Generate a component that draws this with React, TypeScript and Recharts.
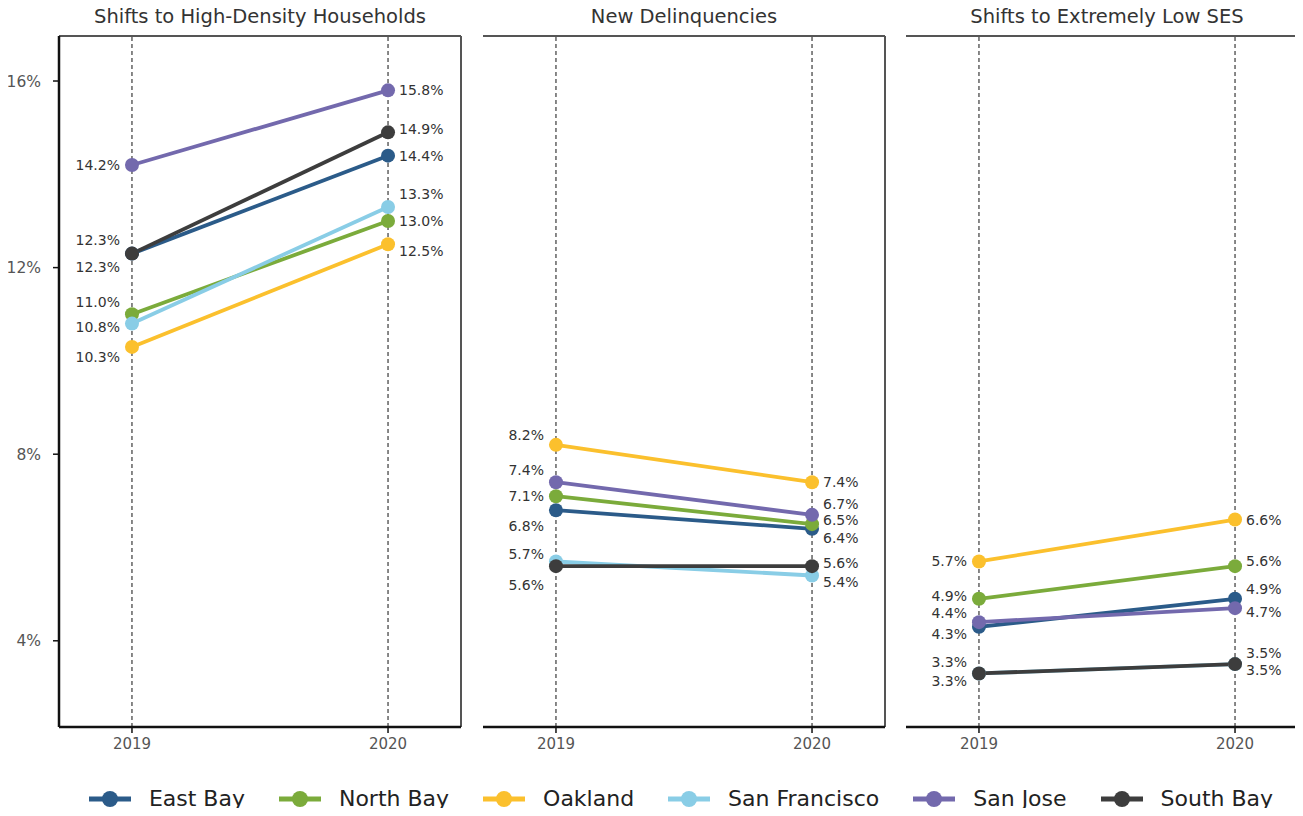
import React from 'react';
import { LineChart, Line, XAxis, YAxis, ReferenceLine, LabelList } from 'recharts';

const years = [2019, 2020];
const regions = ['East Bay', 'North Bay', 'Oakland', 'San Francisco', 'San Jose', 'South Bay'];
const regionColors = ['#2b5b89', '#7bab3b', '#fbc02d', '#89cde6', '#7369ad', '#3d3d3d'];

const density2019 = [12.3, 11.0, 10.3, 10.8, 14.2, 12.3];
const density2020 = [14.4, 13.0, 12.5, 13.3, 15.8, 14.9];
const delinq2019 = [6.8, 7.1, 8.2, 5.7, 7.4, 5.6];
const delinq2020 = [6.4, 6.5, 7.4, 5.4, 6.7, 5.6];
const lowSes2019 = [4.3, 4.9, 5.7, 3.3, 4.4, 3.3];
const lowSes2020 = [4.9, 5.6, 6.6, 3.5, 4.7, 3.5];

const yTicks = [4, 8, 12, 16];

// label nudges (px) so the repelled labels don't overlap, per region
const densityNudge = [[13, -12, 10, 3, 0, -14], [0, 0, 7, -13, 0, -3]];
const delinqNudge = [[16, 0, -10, -7, -12, 19], [9, -4, 0, 7, -11, -3]];
const lowSesNudge = [[7, -3, 0, -11, -9, 8], [-10, -5, 0, -11, 4, 6]];

const X_MIN = 2018.715;
const X_MAX = 2020.285;
const Y_MIN = 2.152;
const Y_MAX = 16.965;

const FONT = '"DejaVu Sans", sans-serif';

function buildRows(v2019: number[], v2020: number[]) {
  return years.map((year, i) => {
    const row: any = { year };
    regions.forEach((r, k) => {
      row[r] = i === 0 ? v2019[k] : v2020[k];
    });
    return row;
  });
}

function makeLabel(nudges: number[][], k: number) {
  return (p: any) => {
    const first = p.index === 0;
    return (
      <text
        x={p.x + (first ? -12 : 11)}
        y={p.y + nudges[p.index][k]}
        textAnchor={first ? 'end' : 'start'}
        dominantBaseline="central"
        fontSize={14}
        fontFamily={FONT}
        fill="#333"
      >
        {Number(p.value).toFixed(1) + '%'}
      </text>
    );
  };
}

interface PanelProps {
  title: string;
  rows: any[];
  nudges: number[][];
  left: number;
  showTicks: boolean;
}

function Panel({ title, rows, nudges, left, showTicks }: PanelProps) {
  const yw = showTicks ? 59 : 0;
  const width = yw + 402 + (showTicks ? 9 : 18);
  return (
    <div style={{ position: 'absolute', left, top: 0, width, height: 760 }}>
      <div
        style={{
          position: 'absolute',
          left: yw + (showTicks ? 0 : 13),
          width: 402,
          top: 5,
          textAlign: 'center',
          fontSize: 19.5,
          lineHeight: '24px',
          color: '#333',
          fontFamily: FONT,
          whiteSpace: 'nowrap',
        }}
      >
        {title}
      </div>
      <LineChart
        width={width}
        height={760}
        data={rows}
        margin={{ top: 36, right: showTicks ? 9 : 5, left: showTicks ? 0 : 13, bottom: 3 }}
      >
        <XAxis
          type="number"
          dataKey="year"
          domain={[X_MIN, X_MAX]}
          ticks={years}
          allowDataOverflow
          height={30}
          axisLine={{ stroke: '#111', strokeWidth: 2.5 }}
          tickLine={{ stroke: '#111', strokeWidth: 1.5 }}
          tickSize={6}
          tickMargin={5}
          tick={{ fill: '#555', fontSize: 15, fontFamily: FONT }}
        />
        <YAxis
          type="number"
          domain={[Y_MIN, Y_MAX]}
          ticks={yTicks}
          allowDataOverflow
          width={yw}
          axisLine={{ stroke: '#111', strokeWidth: 2.5 }}
          tickLine={showTicks ? { stroke: '#111', strokeWidth: 1.5 } : false}
          tickSize={6}
          tickMargin={12}
          tick={showTicks ? { fill: '#555', fontSize: 15.5, fontFamily: FONT } : false}
          tickFormatter={(v) => v + '%'}
        />
        <ReferenceLine y={Y_MAX} stroke="#555" strokeWidth={2} />
        <ReferenceLine x={X_MAX} stroke="#555" strokeWidth={2} />
        <ReferenceLine x={2019} stroke="#111" strokeDasharray="4 3" strokeWidth={1} />
        <ReferenceLine x={2020} stroke="#111" strokeDasharray="4 3" strokeWidth={1} />
        {regions.map((r, k) => (
          <Line
            key={r}
            type="linear"
            dataKey={r}
            stroke={regionColors[k]}
            strokeWidth={3.8}
            dot={{ r: 7, fill: regionColors[k], stroke: regionColors[k], strokeWidth: 0 }}
            activeDot={false}
            isAnimationActive={false}
          >
            <LabelList dataKey={r} content={makeLabel(nudges, k)} />
          </Line>
        ))}
      </LineChart>
    </div>
  );
}

function LegendRow() {
  return (
    <div
      style={{
        position: 'absolute',
        left: 59,
        width: 1244,
        top: 784,
        display: 'flex',
        justifyContent: 'center',
        alignItems: 'center',
        gap: 34,
        fontFamily: FONT,
        fontSize: 22,
        lineHeight: '30px',
        color: '#222',
      }}
    >
      {regions.map((r, k) => (
        <div key={r} style={{ display: 'flex', alignItems: 'center', gap: 18 }}>
          <svg width={42} height={18}>
            <line x1={0} y1={9} x2={42} y2={9} stroke={regionColors[k]} strokeWidth={5} />
            <circle cx={21} cy={9} r={8} fill={regionColors[k]} />
          </svg>
          <span>{r}</span>
        </div>
      ))}
    </div>
  );
}

export default function App() {
  return (
    <div
      style={{
        position: 'relative',
        width: 1303,
        height: 816,
        margin: -8,
        overflow: 'hidden',
        background: '#fff',
      }}
    >
      <Panel
        title="Shifts to High-Density Households"
        rows={buildRows(density2019, density2020)}
        nudges={densityNudge}
        left={0}
        showTicks
      />
      <Panel
        title="New Delinquencies"
        rows={buildRows(delinq2019, delinq2020)}
        nudges={delinqNudge}
        left={470}
        showTicks={false}
      />
      <Panel
        title="Shifts to Extremely Low SES"
        rows={buildRows(lowSes2019, lowSes2020)}
        nudges={lowSesNudge}
        left={893}
        showTicks={false}
      />
      <LegendRow />
    </div>
  );
}
